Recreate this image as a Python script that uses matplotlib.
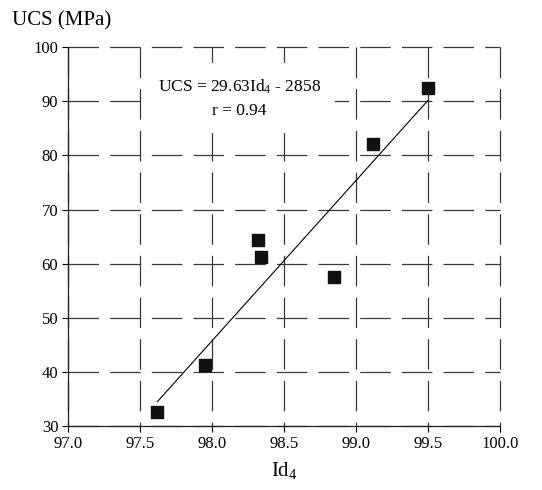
import matplotlib

matplotlib.use("Agg")
import matplotlib.pyplot as plt
import numpy as np

# pontos
id4 = [97.62, 97.95, 98.32, 98.34, 98.85, 99.12, 99.50]
ucs = [32.5, 41.3, 64.4, 61.2, 57.6, 82.2, 92.5]

# reta de ajuste: UCS = 29.63 Id4 - 2858
slope = 29.63
intercept = -2858

x_ticks = [97.0, 97.5, 98.0, 98.5, 99.0, 99.5, 100.0]
y_ticks = [30, 40, 50, 60, 70, 80, 90, 100]

plt.rcParams["font.family"] = ["Liberation Serif", "DejaVu Serif"]
plt.rcParams["mathtext.fontset"] = "custom"
plt.rcParams["mathtext.rm"] = "Liberation Serif"
plt.rcParams["mathtext.it"] = "Liberation Serif:italic"
plt.rcParams["lines.scale_dashes"] = False

fig = plt.figure(figsize=(5.42, 4.90), dpi=100)
ax = fig.add_axes([0.1255, 0.1306, 0.797, 0.773])

ax.set_xlim(x_ticks[0], x_ticks[-1])
ax.set_ylim(y_ticks[0], y_ticks[-1])
ax.set_xticks(x_ticks)
ax.set_yticks(y_ticks)
ax.set_xticklabels([f"{v:.1f}" for v in x_ticks])
ax.tick_params(direction="out", length=4, width=0.8, labelsize=12, pad=3)

ax.spines["top"].set_visible(False)
ax.spines["right"].set_visible(False)
for s in ("left", "bottom"):
    ax.spines[s].set_linewidth(0.9)
    ax.spines[s].set_color("#222222")

ax.grid(True, linestyle=(0, (22, 8)), linewidth=0.9, color="#3a3a3a")
for gl in ax.get_xgridlines():
    gl.set_ydata([1, 0])  # tracejado começando no topo, como no original
for gl in ax.get_xgridlines() + ax.get_ygridlines():
    gl.set_clip_on(False)
ax.set_axisbelow(True)

xs = np.array([min(id4), max(id4)])
ax.plot(xs, slope * xs + intercept, color="black", linewidth=0.8, zorder=3)
ax.scatter(id4, ucs, marker="s", s=66, color="#111111", zorder=4, clip_on=False)

ax.text(
    98.19,
    90.6,
    "UCS = 29.63Id$_4$ - 2858\nr = 0.94",
    ha="center",
    va="center",
    fontsize=12.5,
    linespacing=1.6,
    bbox=dict(facecolor="white", edgecolor="none", pad=10),
    zorder=5,
)

fig.text(0.022, 0.958, "UCS (MPa)", fontsize=15, ha="left", va="center")
ax.set_xlabel("Id$_4$", fontsize=15, labelpad=6)

fig.savefig("out.png", dpi=100)
